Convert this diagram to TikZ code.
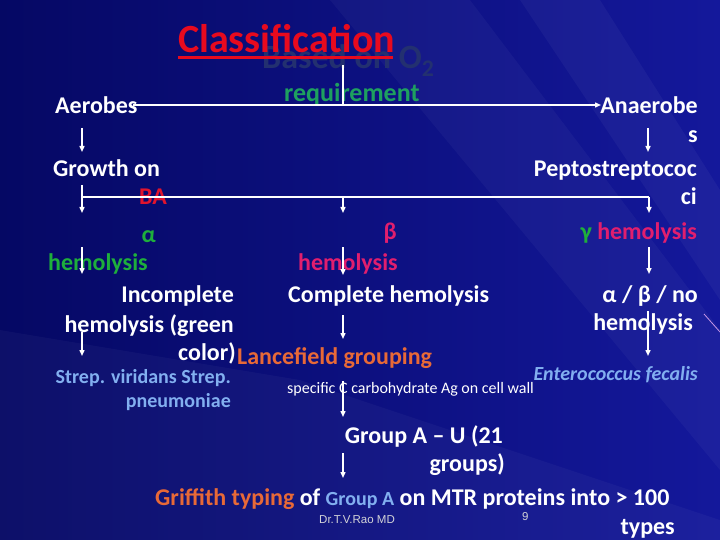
\documentclass[tikz,border=0pt]{standalone}
\usepackage{fontspec}
\setmainfont{Carlito}
\newfontfamily\arialf{Liberation Sans}
\usetikzlibrary{arrows.meta}
\definecolor{bgdark}{RGB}{5,8,100}
\definecolor{bglight}{RGB}{20,24,155}
\definecolor{clsred}{RGB}{232,10,30}
\definecolor{basedc}{RGB}{35,48,112}
\definecolor{reqgreen}{RGB}{30,160,95}
\definecolor{bared}{RGB}{225,20,45}
\definecolor{agreen}{RGB}{30,175,60}
\definecolor{bpink}{RGB}{225,30,110}
\definecolor{lforange}{RGB}{232,105,55}
\definecolor{ltblue}{RGB}{130,175,240}
\definecolor{footgray}{RGB}{210,210,215}
\definecolor{streak}{RGB}{200,150,230}
\begin{document}
\begin{tikzpicture}[x=1pt,y=-1pt,
  txt/.style={inner sep=0pt, text=white, font=\fontsize{24}{28}\selectfont\bfseries},
  conn/.style={white, line width=1.4pt},
  arr/.style={conn, -{Triangle[length=6pt,width=5pt]}},
]
% background
\useasboundingbox (0,0) rectangle (720,540);
\shade[left color=bgdark, right color=bglight] (0,0) rectangle (720,540);
\fill[white, opacity=0.035] (330,0) -- (470,0) -- (720,330) -- (720,470) -- cycle;
\fill[white, opacity=0.04] (520,0) -- (600,0) -- (720,190) -- (720,300) -- cycle;
\fill[white, opacity=0.035] (0,330) -- (300,380) -- (720,520) -- (720,540) -- (0,540) -- cycle;
\draw[streak, line width=0.8pt] (704,314) -- (720,332);

% title
\node[txt, text=basedc, anchor=base west, font=\fontsize{34}{38}\selectfont\bfseries] (based) at (262,69) {Based on O\textsubscript{2}};
\node[txt, text=clsred, anchor=base west, font=\fontsize{40}{44}\selectfont\bfseries] (cls) at (178,53) {Classification};
\fill[clsred] (cls.base west) ++(0,3) rectangle ++(215,3);
\node[txt, text=reqgreen, anchor=base west, font=\fontsize{26}{30}\selectfont\bfseries] (req) at (284,102) {requirement};

% top level
\node[txt, anchor=base west] (aer) at (55,114) {Aerobes};
\node[txt, anchor=base east] (anaer) at (698,114) {Anaerobe};
\node[txt, anchor=base east] (anaers) at (698,143) {s};

% second level
\node[txt, anchor=base west] (growth) at (53,177) {Growth on};
\node[txt, text=bared, anchor=base west] (ba) at (139,205) {BA};
\node[txt, anchor=base east] (pepto) at (697,177) {Peptostreptococ};
\node[txt, anchor=base east] (ci) at (697,205) {ci};

% hemolysis types
\node[txt, text=agreen, anchor=base east] (alpha) at (156,242) {α};
\node[txt, text=agreen, anchor=base west] (ahem) at (48,270) {hemolysis};
\node[txt, text=bpink, anchor=base east] (beta) at (397,240) {β};
\node[txt, text=bpink, anchor=base west] (bhem) at (298,270) {hemolysis};
\node[txt, text=bpink, anchor=base east] (ghem) at (697,240) {\textcolor{agreen}{γ} hemolysis};

% descriptions
\node[txt, anchor=base east] (inc1) at (234,302) {Incomplete};
\node[txt, anchor=base east] (inc2) at (234,332) {hemolysis (green};
\node[txt, anchor=base east] (inc3) at (236,360) {color)};
\node[txt, anchor=base west] (comp) at (288,302) {Complete hemolysis};
\node[txt, anchor=base east] (abn1) at (698,302) {α / β / no};
\node[txt, anchor=base east] (abn2) at (693,330) {hemolysis};

% lower level
\node[txt, text=lforange, anchor=base west] (lance) at (237,364) {Lancefield grouping};
\node[txt, text=ltblue, anchor=base east, font=\fontsize{20}{23}\selectfont\bfseries] (strep1) at (231,383) {Strep. viridans Strep.};
\node[txt, text=ltblue, anchor=base east, font=\fontsize{20}{23}\selectfont\bfseries] (strep2) at (231,407) {pneumoniae};
\node[txt, anchor=base west, font=\fontsize{16}{19}\selectfont] (spec) at (287,393) {specific C carbohydrate Ag on cell wall};
\node[txt, text=ltblue, anchor=base east, font=\fontsize{20}{23}\selectfont\bfseries\itshape] (entero) at (698,380) {Enterococcus fecalis};

\node[txt, anchor=base east] (grpa1) at (503,443) {Group A – U (21};
\node[txt, anchor=base east] (grpa2) at (505,471) {groups)};
\node[txt, anchor=base west] (griff) at (155,505) {\textcolor{lforange}{Griffith typing} of \textcolor{ltblue}{\fontsize{20}{24}\selectfont Group A} on MTR proteins into > 100};
\node[txt, anchor=base east] (types) at (675,534) {types};
\node[inner sep=0pt, text=footgray, anchor=base west, font=\arialf\fontsize{11.5}{13}\selectfont] (author) at (319,523) {Dr.T.V.Rao MD};
\node[inner sep=0pt, text=footgray, anchor=base west, font=\arialf\fontsize{11.5}{13}\selectfont] (pnum) at (522,520) {9};

% connector points
\coordinate (o2b) at (343,65);
\coordinate (o2j) at (343,105);
\coordinate (aerr) at (133,105);
\coordinate (anael) at (601,105);
\coordinate (l1s) at (82,128);  \coordinate (l1e) at (82,152);
\coordinate (r1s) at (648,128); \coordinate (r1e) at (648,152);
\coordinate (l2s) at (82,185);  \coordinate (l2e) at (82,213);
\coordinate (bal) at (82,197);  \coordinate (bar) at (649,197);
\coordinate (m2s) at (343,197); \coordinate (m2e) at (343,213);
\coordinate (r2e) at (649,213);
\coordinate (l3s) at (82,247);  \coordinate (l3e) at (82,274);
\coordinate (m3s) at (343,247); \coordinate (m3e) at (343,275);
\coordinate (r3s) at (649,247); \coordinate (r3e) at (649,274);
\coordinate (l4s) at (82,332);  \coordinate (l4e) at (82,356);
\coordinate (m4s) at (343,315); \coordinate (m4e) at (343,339);
\coordinate (r4s) at (648,311); \coordinate (r4e) at (648,356);
\coordinate (m5s) at (343,381); \coordinate (m5e) at (343,417);
\coordinate (m6s) at (343,453); \coordinate (m6e) at (343,478);

% connectors
\draw[conn] (o2b) -- (o2j);
\draw[arr] (aerr) -- (anael);
\draw[arr] (l1s) -- (l1e);
\draw[arr] (r1s) -- (r1e);
\draw[arr] (l2s) -- (l2e);
\draw[conn] (bal) -- (bar);
\draw[arr] (m2s) -- (m2e);
\draw[arr] (bar) -- (r2e);
\draw[arr] (l3s) -- (l3e);
\draw[arr] (m3s) -- (m3e);
\draw[arr] (r3s) -- (r3e);
\draw[arr] (l4s) -- (l4e);
\draw[arr] (m4s) -- (m4e);
\draw[arr] (r4s) -- (r4e);
\draw[arr] (m5s) -- (m5e);
\draw[arr] (m6s) -- (m6e);
\end{tikzpicture}
\end{document}
